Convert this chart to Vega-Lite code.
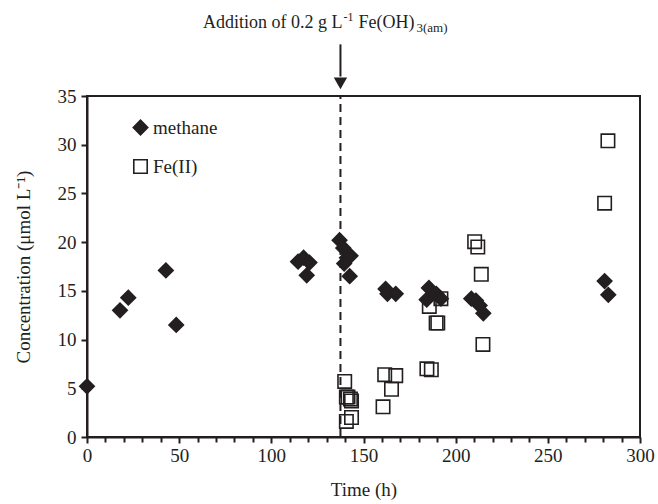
{
  "$schema": "https://vega.github.io/schema/vega-lite/v6.json",
  "width": 553,
  "height": 341,
  "autosize": {"type": "none"},
  "padding": {"left": 87, "top": 96, "right": 18, "bottom": 67},
  "background": "white",
  "data": {"values": [{}]},
  "config": {
    "font": "Liberation Serif",
    "view": {"stroke": "#231f20", "strokeWidth": 2},
    "axis": {
      "grid": false,
      "domainColor": "#231f20",
      "domainWidth": 2,
      "tickColor": "#231f20",
      "tickWidth": 2,
      "labelColor": "#231f20",
      "titleColor": "#231f20",
      "labelFont": "Liberation Serif",
      "titleFont": "Liberation Serif",
      "labelFontSize": 19,
      "titleFontSize": 19,
      "titleFontWeight": "normal",
      "labelFlush": false
    }
  },
  "datasets": {
    "pts": [
      {"series": "methane", "t": 0, "c": 5.2},
      {"series": "methane", "t": 17.9, "c": 13.0},
      {"series": "methane", "t": 22.4, "c": 14.3},
      {"series": "methane", "t": 42.8, "c": 17.1},
      {"series": "methane", "t": 48.4, "c": 11.5},
      {"series": "methane", "t": 114.5, "c": 18.0},
      {"series": "methane", "t": 117.5, "c": 18.4},
      {"series": "methane", "t": 119.2, "c": 16.6},
      {"series": "methane", "t": 120.7, "c": 17.9},
      {"series": "methane", "t": 137, "c": 20.2},
      {"series": "methane", "t": 139, "c": 19.4},
      {"series": "methane", "t": 141, "c": 18.4},
      {"series": "methane", "t": 139.5, "c": 17.8},
      {"series": "methane", "t": 143, "c": 18.6},
      {"series": "methane", "t": 142.5, "c": 16.5},
      {"series": "methane", "t": 162, "c": 15.2},
      {"series": "methane", "t": 163, "c": 14.7},
      {"series": "methane", "t": 167.5, "c": 14.7},
      {"series": "methane", "t": 185.5, "c": 15.3},
      {"series": "methane", "t": 184.3, "c": 14.1},
      {"series": "methane", "t": 189.5, "c": 14.7},
      {"series": "methane", "t": 192, "c": 14.2},
      {"series": "methane", "t": 208.5, "c": 14.2},
      {"series": "methane", "t": 211, "c": 14.0},
      {"series": "methane", "t": 213, "c": 13.5},
      {"series": "methane", "t": 215, "c": 12.7},
      {"series": "methane", "t": 280.8, "c": 16.0},
      {"series": "methane", "t": 282.8, "c": 14.6},
      {"series": "Fe(II)", "t": 139.8, "c": 5.7},
      {"series": "Fe(II)", "t": 140.7, "c": 4.1},
      {"series": "Fe(II)", "t": 141.6, "c": 4.1},
      {"series": "Fe(II)", "t": 142.9, "c": 3.9},
      {"series": "Fe(II)", "t": 143.5, "c": 3.7},
      {"series": "Fe(II)", "t": 140.7, "c": 1.6},
      {"series": "Fe(II)", "t": 143.5, "c": 2.0},
      {"series": "Fe(II)", "t": 160.6, "c": 3.1},
      {"series": "Fe(II)", "t": 161.5, "c": 6.4},
      {"series": "Fe(II)", "t": 165.2, "c": 4.9},
      {"series": "Fe(II)", "t": 167.5, "c": 6.3},
      {"series": "Fe(II)", "t": 184.4, "c": 7.0},
      {"series": "Fe(II)", "t": 186.8, "c": 6.9},
      {"series": "Fe(II)", "t": 185.7, "c": 13.4},
      {"series": "Fe(II)", "t": 189.4, "c": 11.7},
      {"series": "Fe(II)", "t": 190.3, "c": 11.7},
      {"series": "Fe(II)", "t": 192, "c": 14.2},
      {"series": "Fe(II)", "t": 210.3, "c": 20.05},
      {"series": "Fe(II)", "t": 212, "c": 19.5},
      {"series": "Fe(II)", "t": 213.9, "c": 16.7},
      {"series": "Fe(II)", "t": 214.8, "c": 9.5},
      {"series": "Fe(II)", "t": 280.8, "c": 24.0},
      {"series": "Fe(II)", "t": 282.6, "c": 30.4}
    ]
  },
  "resolve": {"axis": {"x": "independent"}},
  "layer": [
    {
      "data": {"name": "pts"},
      "mark": {"type": "point", "strokeWidth": 1.6, "opacity": 1},
      "encoding": {
        "x": {"field": "t", "type": "quantitative", "scale": {"domain": [0, 300], "nice": false},
              "axis": {"orient": "bottom", "values": [0, 50, 100, 150, 200, 250, 300], "tickSize": 6, "labelPadding": 3, "title": "Time (h)", "titlePadding": 15}},
        "y": {"field": "c", "type": "quantitative", "scale": {"domain": [0, 35], "nice": false},
              "axis": {"values": [0, 5, 10, 15, 20, 25, 30, 35], "tickSize": 6, "labelPadding": 5, "title": "Concentration (μmol L⁻¹)", "titlePadding": 24}},
        "shape": {"field": "series", "type": "nominal", "scale": {"domain": ["methane", "Fe(II)"], "range": ["diamond", "square"]},
                  "legend": {"orient": "none", "legendX": 44, "legendY": 22, "title": null, "labelFont": "Liberation Serif", "labelFontSize": 19, "labelColor": "#231f20", "symbolSize": 160, "rowPadding": 18, "labelOffset": 3, "symbolStrokeWidth": 1.6, "symbolStrokeColor": "#231f20"}},
        "fill": {"field": "series", "type": "nominal", "scale": {"domain": ["methane", "Fe(II)"], "range": ["#231f20", "transparent"]}},
        "stroke": {"value": "#231f20"},
        "size": {"field": "series", "type": "nominal", "scale": {"domain": ["methane", "Fe(II)"], "range": [210, 180]}}
      }
    },
    {
      "mark": {"type": "rule", "strokeDash": [8, 5], "strokeWidth": 2, "color": "#231f20"},
      "encoding": {
        "x": {"datum": 137.5, "type": "quantitative", "axis": {"orient": "bottom", "values": [10, 20, 30, 40, 60, 70, 80, 90, 110, 120, 130, 140, 160, 170, 180, 190, 210, 220, 230, 240, 260, 270, 280, 290], "labels": false, "domain": false, "tickSize": 5, "title": null}},
        "y": {"datum": 0, "type": "quantitative"},
        "y2": {"datum": 35}
      }
    },
    {
      "mark": {"type": "rule", "strokeWidth": 2, "color": "#231f20", "clip": false},
      "encoding": {
        "x": {"datum": 137.5, "type": "quantitative", "axis": null},
        "y": {"datum": 40.3, "type": "quantitative"},
        "y2": {"datum": 37}
      }
    },
    {
      "mark": {"type": "point", "shape": "triangle-down", "filled": true, "color": "#231f20", "size": 180, "opacity": 1},
      "encoding": {
        "x": {"datum": 137.5, "type": "quantitative", "axis": null},
        "y": {"datum": 36.3, "type": "quantitative"}
      }
    },
    {
      "mark": {"type": "text", "text": "Addition of 0.2 g L", "align": "right", "baseline": "alphabetic", "fontSize": 18, "dx": 2, "font": "Liberation Serif", "color": "#231f20"},
      "encoding": {"x": {"datum": 137.5, "type": "quantitative", "axis": null}, "y": {"datum": 42, "type": "quantitative"}}
    },
    {
      "mark": {"type": "text", "text": "-1", "align": "left", "baseline": "alphabetic", "fontSize": 12, "dx": 3, "dy": -7, "font": "Liberation Serif", "color": "#231f20"},
      "encoding": {"x": {"datum": 137.5, "type": "quantitative", "axis": null}, "y": {"datum": 42, "type": "quantitative"}}
    },
    {
      "mark": {"type": "text", "text": "Fe(OH)", "align": "left", "baseline": "alphabetic", "fontSize": 18, "dx": 18, "font": "Liberation Serif", "color": "#231f20"},
      "encoding": {"x": {"datum": 137.5, "type": "quantitative", "axis": null}, "y": {"datum": 42, "type": "quantitative"}}
    },
    {
      "mark": {"type": "text", "text": "3(am)", "align": "left", "baseline": "alphabetic", "fontSize": 13, "dx": 76, "dy": 4, "font": "Liberation Serif", "color": "#231f20"},
      "encoding": {"x": {"datum": 137.5, "type": "quantitative", "axis": null}, "y": {"datum": 42, "type": "quantitative"}}
    }
  ]
}
